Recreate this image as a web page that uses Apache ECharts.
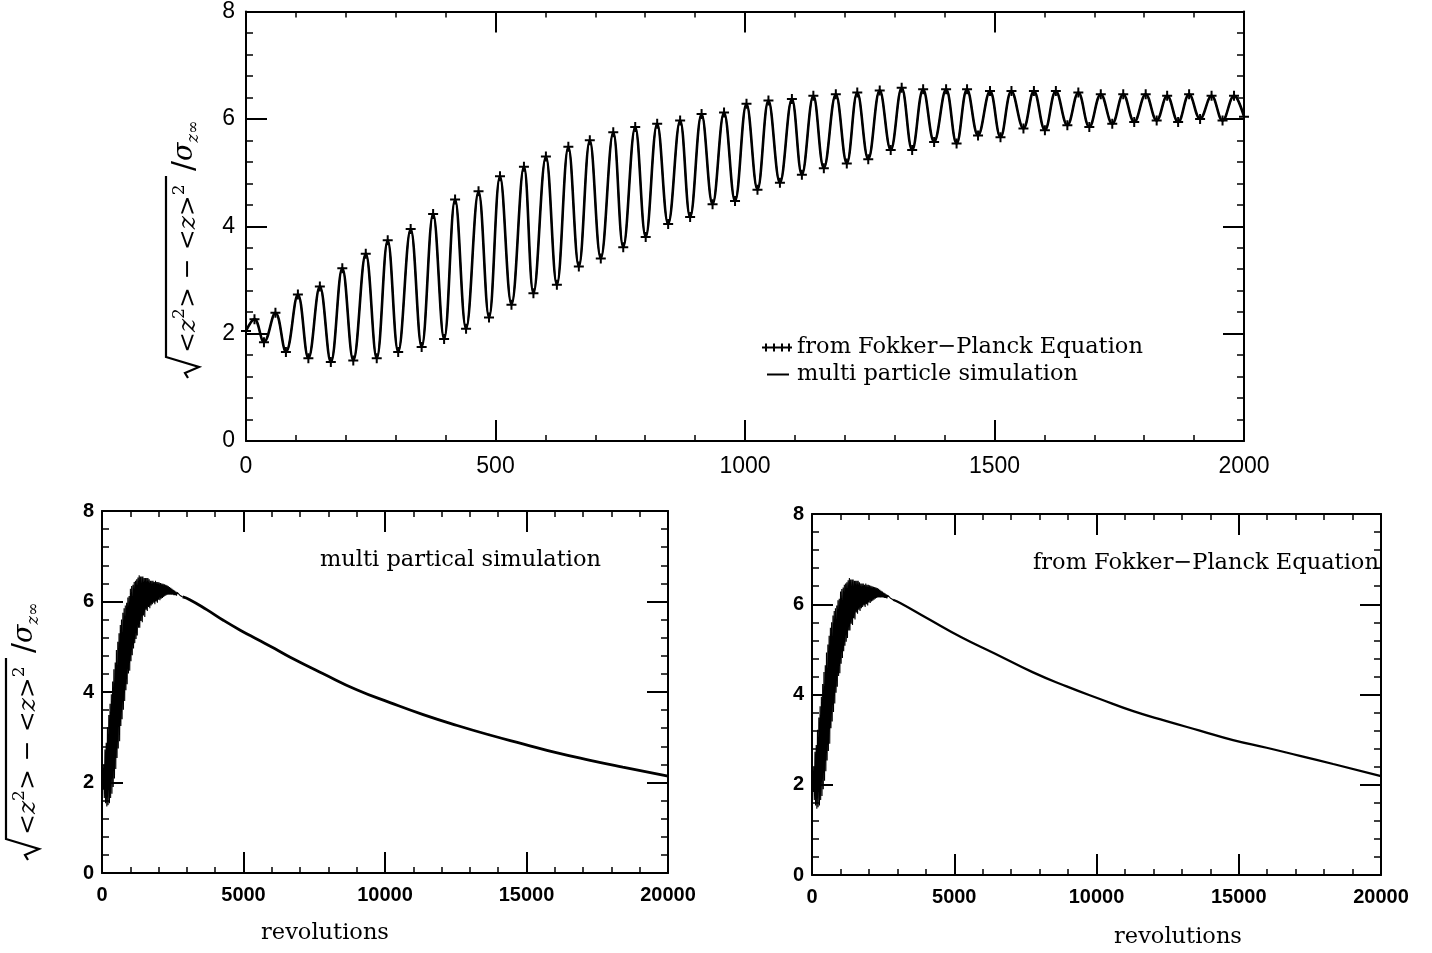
<!DOCTYPE html>
<html>
<head>
<meta charset="utf-8">
<script src="https://cdn.jsdelivr.net/npm/echarts@6/dist/echarts.min.js"></script>
<style>
html,body{margin:0;padding:0;background:#fff;}
#chart{width:1432px;height:953px;}
</style>
</head>
<body>
<div id="chart"></div>
<script>
// ---- data ----
// top panel: turning points of the oscillation (revolutions, value)
const topX = [0,17,36,59,80,104,125,148,170,193,215,240,262,284,305,330,352,375,397,419,441,466,487,509,532,557,576,601,623,646,667,689,711,736,756,780,801,824,846,870,890,913,935,958,980,1003,1025,1047,1070,1094,1114,1137,1158,1182,1204,1225,1247,1270,1292,1314,1335,1357,1379,1403,1424,1445,1467,1491,1512,1534,1558,1579,1601,1623,1646,1668,1690,1713,1736,1758,1780,1803,1825,1846,1868,1890,1912,1935,1957,1980,2000];
const topY = [2.05,2.27,1.84,2.39,1.66,2.73,1.54,2.88,1.47,3.22,1.50,3.49,1.54,3.74,1.66,3.95,1.75,4.23,1.90,4.50,2.09,4.65,2.30,4.93,2.54,5.11,2.75,5.30,2.91,5.48,3.25,5.60,3.40,5.75,3.61,5.85,3.80,5.91,4.04,5.97,4.17,6.09,4.41,6.12,4.47,6.28,4.68,6.34,4.81,6.37,4.96,6.43,5.08,6.46,5.17,6.49,5.25,6.53,5.42,6.58,5.42,6.55,5.57,6.55,5.54,6.55,5.69,6.52,5.66,6.52,5.82,6.52,5.79,6.52,5.88,6.49,5.85,6.46,5.91,6.46,5.94,6.46,5.97,6.43,5.94,6.46,6.00,6.43,5.97,6.43,6.04];
// bottom panels: the band just after 2000 revolutions
const bandX = [2025,2047,2070,2092,2115,2137,2160,2182,2205,2227,2250,2272,2295,2317,2340,2362,2385,2407,2430,2452,2475,2497,2520,2542,2565,2587,2610,2632,2655,2700,2750,2800,2850];
const bandY = [6.42,6.03,6.41,6.06,6.40,6.08,6.39,6.10,6.38,6.12,6.37,6.14,6.36,6.15,6.34,6.15,6.32,6.15,6.30,6.15,6.28,6.15,6.26,6.14,6.24,6.14,6.22,6.13,6.20,6.16,6.14,6.12,6.10];
// bottom-left: multi particle simulation, slow decay
const simDecayX = [2850,3100,3700,4300,4900,5500,6100,6650,7800,9000,10200,11350,12550,13700,14900,16050,17250,18400,20000];
const simDecayY = [6.10,6.04,5.82,5.58,5.36,5.16,4.96,4.77,4.41,4.05,3.76,3.50,3.26,3.05,2.85,2.66,2.49,2.34,2.14];
// bottom-right: Fokker-Planck, slow decay
const fpDecayX = [2850,3100,4080,5250,6420,7770,8950,10120,11290,12460,13630,14800,15980,17150,18320,20000];
const fpDecayY = [6.10,6.03,5.68,5.27,4.91,4.49,4.18,3.90,3.63,3.41,3.20,2.99,2.82,2.64,2.46,2.19];
// axes
const topXTicks = {min:0, max:2000, interval:500};
const botXTicks = {min:0, max:20000, interval:5000};
const yTicks = {min:0, max:8, interval:2};

const nameFP = 'from Fokker\u2212Planck Equation';
const nameSim = 'multi particle simulation';

function pairs(xs, ys){ return xs.map((x,i)=>[x, ys[i]]); }
const topData = pairs(topX, topY);
const earlyLong = topData.concat(pairs(bandX, bandY));

const chart = echarts.init(document.getElementById('chart'), null, {renderer:'canvas'});

const plain = v => String(v);
function xAx(grid, ticks, pos, labels, big){
  return Object.assign({
    type:'value', gridIndex:grid, position:pos,
    axisLine:{show:true, onZero:false, lineStyle:{color:'#000', width:2}},
    axisTick:{show:true, inside:true, length: 21, lineStyle:{color:'#000', width:2}},
    minorTick:{show:true, splitNumber:5, length:6, lineStyle:{color:'#000', width:1.5}},
    splitLine:{show:false},
    axisLabel:{show:labels, color:'#000', margin: big ? 14 : 12, formatter:plain,
      fontFamily:'Liberation Sans', fontSize: big ? 23 : 20, fontWeight: big ? 'normal' : 'bold'}
  }, ticks);
}
function yAx(grid, pos, labels, big){
  return Object.assign({
    type:'value', gridIndex:grid, position:pos,
    axisLine:{show:true, onZero:false, lineStyle:{color:'#000', width:2}},
    axisTick:{show:true, inside:true, length:21, lineStyle:{color:'#000', width:2}},
    minorTick:{show:true, splitNumber:5, length:7, lineStyle:{color:'#000', width:1.5}},
    splitLine:{show:false},
    axisLabel:{show:labels, color:'#000', margin: big ? 11 : 8, formatter:plain,
      fontFamily:'Liberation Sans', fontSize: big ? 23 : 20, fontWeight: big ? 'normal' : 'bold'}
  }, yTicks);
}

function yTitle(gx, gy){
  return {
    type:'group', x:gx, y:gy, rotation:Math.PI/2, silent:true,
    children:[
      {type:'polyline', shape:{points:[[0,3],[5,0],[11,14],[21,-19],[202,-19]]},
        style:{stroke:'#000', lineWidth:2.2, fill:null}},
      {type:'text', x:25, y:1, style:{
        text:'{a|<}{z|z}{s|2}{a|> \u2212 <}{z|z}{a|>}{s|2}',
        verticalAlign:'middle', align:'left',
        rich:{
          a:{fontFamily:'DejaVu Serif', fontSize:25, lineHeight:30, verticalAlign:'bottom', fill:'#000'},
          z:{fontFamily:'DejaVu Serif', fontStyle:'italic', fontSize:25, lineHeight:30, verticalAlign:'bottom', fill:'#000'},
          s:{fontFamily:'DejaVu Serif', fontSize:17, lineHeight:30, verticalAlign:'top', fill:'#000'}
        }}},
      {type:'text', x:207, y:0, style:{
        text:'{b|/}{g|\u03c3}{t|z\u221e}',
        verticalAlign:'middle', align:'left',
        rich:{
          b:{fontFamily:'DejaVu Sans', fontSize:30, lineHeight:34, verticalAlign:'middle', fill:'#000'},
          g:{fontFamily:'DejaVu Serif', fontStyle:'italic', fontSize:27, lineHeight:34, verticalAlign:'middle', fill:'#000'},
          t:{fontFamily:'DejaVu Serif', fontStyle:'italic', fontSize:16, lineHeight:30, verticalAlign:'bottom', fill:'#000'}
        }}}
    ]
  };
}

const serifTxt = (x, y, t, align) => ({
  type:'text', x:x, y:y, silent:true,
  style:{text:t, fontFamily:'DejaVu Serif', fontSize:22.5, fill:'#000', align:align||'left', verticalAlign:'middle'}
});

const blk = w => ({lineStyle:{color:'#000', width:w}, itemStyle:{color:'#000'}});

const option = {
  animation:false,
  backgroundColor:'#fff',
  grid:[
    {left:246, top:7, width:998, height:434},
    {left:102, top:511, width:566, height:362},
    {left:812, top:514, width:569, height:361}
  ],
  xAxis:[
    xAx(0, topXTicks, 'bottom', true, true),
    xAx(0, topXTicks, 'top', false, true),
    xAx(1, botXTicks, 'bottom', true, false),
    xAx(1, botXTicks, 'top', false, false),
    xAx(2, botXTicks, 'bottom', true, false),
    xAx(2, botXTicks, 'top', false, false)
  ],
  yAxis:[
    yAx(0, 'left', true, true),
    yAx(0, 'right', false, true),
    yAx(1, 'left', true, false),
    yAx(1, 'right', false, false),
    yAx(2, 'left', true, false),
    yAx(2, 'right', false, false)
  ],
  legend:{
    orient:'vertical', left:762, top:336, padding:0, itemGap:4,
    itemWidth:30, itemHeight:10, selectedMode:false,
    textStyle:{fontFamily:'DejaVu Serif', fontSize:22.5, color:'#000', lineHeight:22},
    data:[
      {name:nameFP, icon:'path://M0,4h30v2H0z M3,1h2v8H3z M11,1h2v8h-2z M19,1h2v8h-2z M26,1h2v8h-2z'},
      {name:nameSim, icon:'path://M0,0h0.1v0.1H0z M2,4h22v2H2z M0,9.9h0.1v0.1H0z'}
    ]
  },
  series:[
    Object.assign({name:nameSim, type:'line', xAxisIndex:0, yAxisIndex:0, data:topData, smooth:0.4,
      symbol:'none'}, blk(2.6)),
    Object.assign({name:nameFP, type:'line', xAxisIndex:0, yAxisIndex:0, data:topData, smooth:0.4,
      symbol:'path://M0,4h10v2H0z M4,0h2v10H4z', symbolSize:10, showSymbol:true}, blk(1.4)),
    Object.assign({name:'simulation, long run (early)', type:'line', xAxisIndex:2, yAxisIndex:2, data:earlyLong,
      symbol:'none'}, blk(1.1)),
    Object.assign({name:'simulation, long run', type:'line', xAxisIndex:2, yAxisIndex:2, data:pairs(simDecayX, simDecayY),
      smooth:0.5, symbol:'none'}, blk(2.8)),
    Object.assign({name:'Fokker-Planck, long run (early)', type:'line', xAxisIndex:4, yAxisIndex:4, data:earlyLong,
      symbol:'none'}, blk(1.1)),
    Object.assign({name:'Fokker-Planck, long run', type:'line', xAxisIndex:4, yAxisIndex:4, data:pairs(fpDecayX, fpDecayY),
      smooth:0.5, symbol:'none'}, blk(2.3))
  ],
  graphic:[
    yTitle(185, 378),
    yTitle(25, 860),
    serifTxt(320, 560, 'multi partical simulation'),
    serifTxt(1033, 563, 'from Fokker\u2212Planck Equation'),
    serifTxt(325, 933, 'revolutions', 'center'),
    serifTxt(1178, 937, 'revolutions', 'center')
  ]
};
chart.setOption(option);
</script>
</body>
</html>
